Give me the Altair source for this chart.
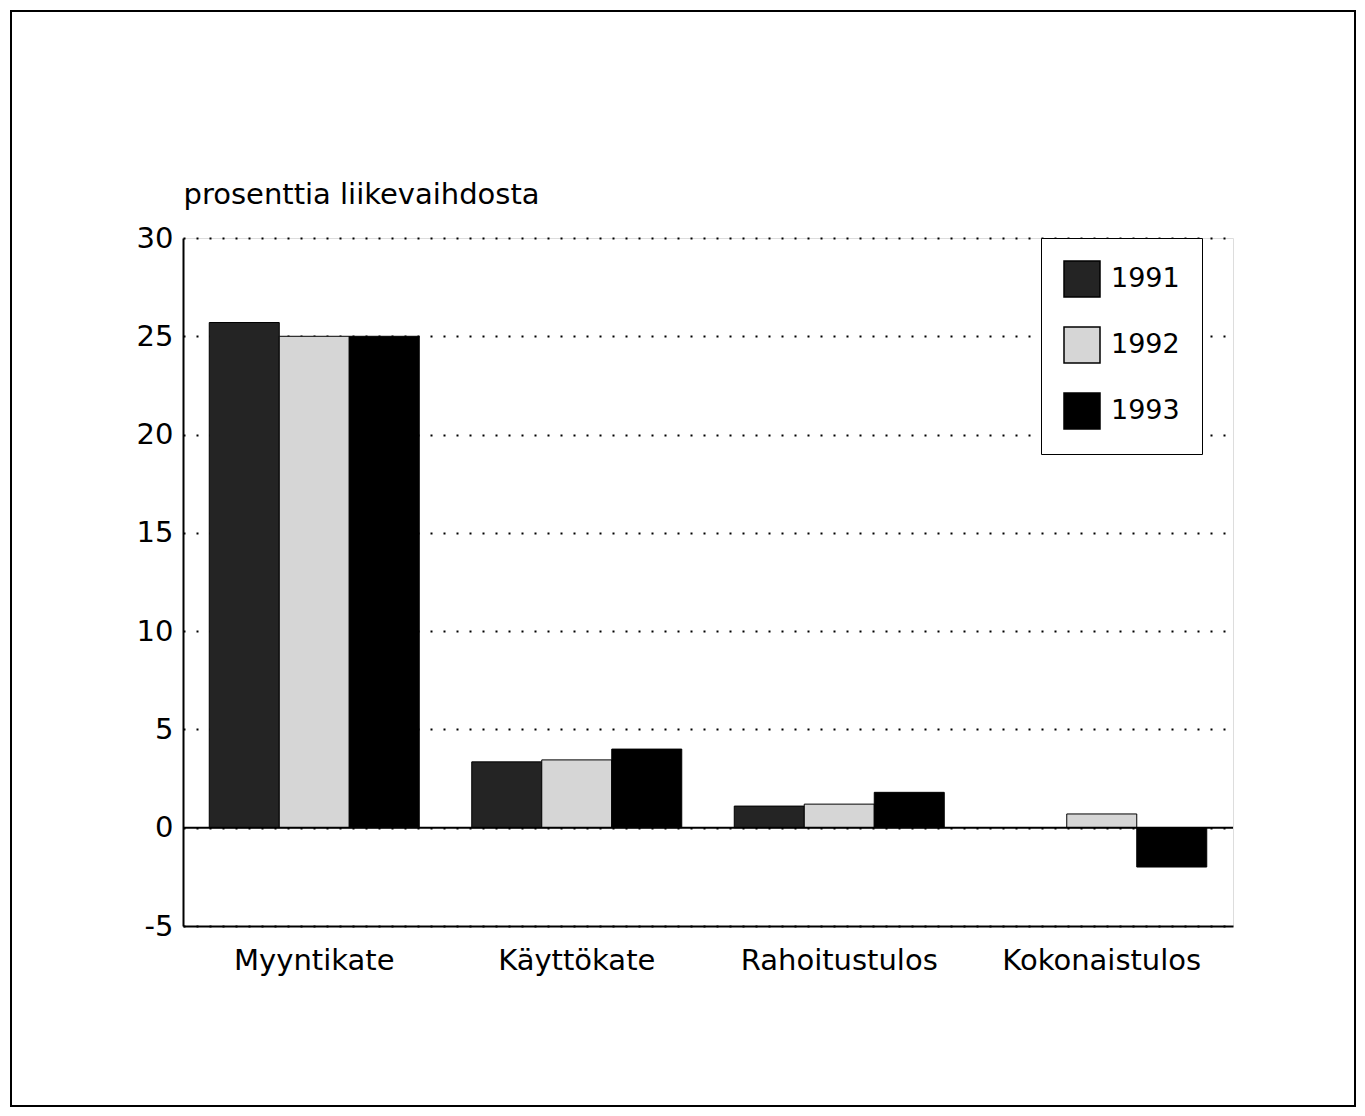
import altair as alt
import pandas as pd

categories = ["Myyntikate", "Käyttökate", "Rahoitustulos", "Kokonaistulos"]
years = ["1991", "1992", "1993"]
values_1991 = [25.7, 3.35, 1.1, None]
values_1992 = [25.0, 3.45, 1.2, 0.7]
values_1993 = [25.0, 4.0, 1.8, -2.0]
colors = ["#242424", "#d6d6d6", "#000000"]
y_ticks = [-5, 0, 5, 10, 15, 20, 25, 30]

rows = []
for yr, vals in zip(years, [values_1991, values_1992, values_1993]):
    for c, v in zip(categories, vals):
        if v is not None:
            rows.append({"kategoria": c, "vuosi": yr, "arvo": v})
df = pd.DataFrame(rows)

FONT = "DejaVu Sans"

bars = alt.Chart(df).mark_bar(stroke="black", strokeWidth=1).encode(
    x=alt.X("kategoria:N", sort=categories,
            scale=alt.Scale(paddingInner=0.2, paddingOuter=0.1),
            axis=alt.Axis(title=None, labelAngle=0, ticks=False, domainColor="black",
                          domainWidth=2, labelFontSize=29, labelFont=FONT, labelLimit=0,
                          labelColor="black", labelPadding=20, grid=False)),
    xOffset=alt.XOffset("vuosi:N", sort=years, scale=alt.Scale(paddingInner=0, paddingOuter=0)),
    y=alt.Y("arvo:Q", scale=alt.Scale(domain=[-5, 30], nice=False, zero=False),
            axis=alt.Axis(values=y_ticks, labelExpr="'' + datum.value",
                          title="prosenttia liikevaihdosta", titleAngle=0,
                          titleAlign="left", titleBaseline="alphabetic", titleX=0, titleY=-35,
                          titleFontSize=29, titleFont=FONT, titleFontWeight="normal",
                          titleColor="black", ticks=False, domainColor="black", domainWidth=2,
                          labelFontSize=29, labelFont=FONT, labelColor="black", labelPadding=10,
                          grid=True, gridColor="black", gridDash=[2, 11], gridWidth=2,
                          gridOpacity=1)),
    color=alt.Color("vuosi:N", sort=years, scale=alt.Scale(domain=years, range=colors),
                    title=None,
                    legend=alt.Legend(orient="none", legendX=858, legendY=0,
                                      symbolType="square", symbolSize=1296,
                                      symbolStrokeColor="black", symbolStrokeWidth=1.5,
                                      labelFontSize=27, labelFont=FONT, labelColor="black",
                                      labelOffset=10, rowPadding=24, padding=22,
                                      strokeColor="black", fillColor="white")),
)

zero = alt.Chart(pd.DataFrame({"z": [0]})).mark_rule(color="black", strokeWidth=2).encode(
    y=alt.Y("z:Q")
)

frame = alt.Chart(pd.DataFrame({"f": [0]})).mark_rect(
    fillOpacity=0, stroke="black", strokeWidth=2
).encode(
    x=alt.value(-172), x2=alt.value(1172), y=alt.value(-227), y2=alt.value(868)
)

chart = alt.layer(bars, zero, frame).properties(
    width=1050, height=688,
    autosize=alt.AutoSizeParams(type="none"),
    padding={"left": 175, "top": 230, "right": 124, "bottom": 182},
).configure_view(stroke=None).configure_axisX(grid=False).configure(background="white")

chart.save("out.html", embed_options={"renderer": "svg", "actions": False})
